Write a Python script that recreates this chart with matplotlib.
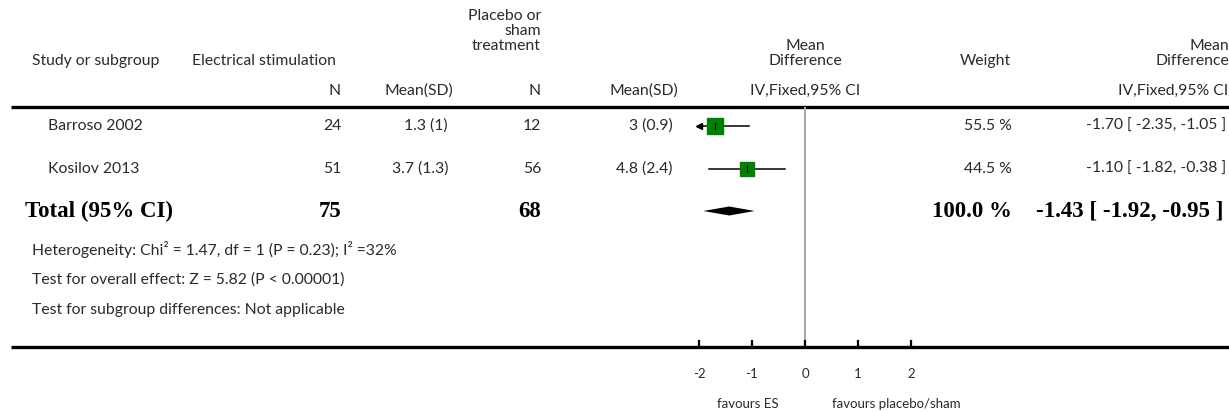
import numpy as np
import matplotlib.pyplot as plt

plt.rcParams['font.family'] = ['Lato', 'DejaVu Sans']

# %% data
studies = ['Barroso 2002', 'Kosilov 2013']
es_n = [24, 51]
es_mean = ['1.3', '3.7']
es_sd = ['1', '1.3']
ctl_n = [12, 56]
ctl_mean = ['3', '4.8']
ctl_sd = ['0.9', '2.4']
md = [-1.70, -1.10]
md_lo = [-2.35, -1.82]
md_hi = [-1.05, -0.38]
weight = [55.5, 44.5]

total_es_n = 75
total_ctl_n = 68
total_md = -1.43
total_lo = -1.92
total_hi = -0.95
total_weight = 100.0

heterogeneity = 'Heterogeneity: Chi\u00b2 = 1.47, df = 1 (P = 0.23); I\u00b2 =32%'
overall = 'Test for overall effect: Z = 5.82 (P < 0.00001)'
subgroup = 'Test for subgroup differences: Not applicable'

xticks = [-2, -1, 0, 1, 2]
xlim = (-2, 2)

# %% layout (pixels)
W, H = 1229, 412
row_y = [126, 169]
total_y = 211
txt = '#2a2a2a'
fs = 11.3

fig = plt.figure(figsize=(W / 100, H / 100), dpi=100)
bg = fig.add_axes([0, 0, 1, 1])
bg.set_xlim(0, W)
bg.set_ylim(H, 0)
bg.axis('off')

# forest panel: x -2..2 mapped on pixels 699..911
px0, px1 = 699, 911
fp = fig.add_axes([px0 / W, 0, (px1 - px0) / W, 1])
fp.set_xlim(*xlim)
fp.set_ylim(H, 0)
fp.axis('off')


def t(x, y, s, ha='left', **kw):
    kw.setdefault('fontsize', fs)
    kw.setdefault('color', txt)
    bg.text(x, y, s, ha=ha, va='center', **kw)


# ----- header -----
t(32, 61, 'Study or subgroup')
t(192, 61, 'Electrical stimulation')
t(541, 16, 'Placebo or', ha='right')
t(541, 31, 'sham', ha='right')
t(541, 46, 'treatment', ha='right')
t(805, 46, 'Mean', ha='center')
t(805, 61, 'Difference', ha='center')
t(985, 61, 'Weight', ha='center')
t(1229, 46, 'Mean', ha='right')
t(1229, 61, 'Difference', ha='right')

t(341, 91, 'N', ha='right')
t(419, 91, 'Mean(SD)', ha='center')
t(541, 91, 'N', ha='right')
t(644, 91, 'Mean(SD)', ha='center')
t(805, 91, 'IV,Fixed,95% CI', ha='center')
t(1228, 91, 'IV,Fixed,95% CI', ha='right')

bg.plot([11, W], [107, 107], color='black', lw=2.4, solid_capstyle='butt')
bg.plot([11, W], [347, 347], color='black', lw=2.4, solid_capstyle='butt')

# ----- study rows -----
for i, name in enumerate(studies):
    y = row_y[i]
    t(48, y, name)
    t(341, y, str(es_n[i]), ha='right')
    t(448, y, f'{es_mean[i]} ({es_sd[i]})', ha='right')
    t(541, y, str(ctl_n[i]), ha='right')
    t(673, y, f'{ctl_mean[i]} ({ctl_sd[i]})', ha='right')
    t(1012, y, f'{weight[i]:.1f} %', ha='right')
    t(1226, y, f'{md[i]:.2f} [ {md_lo[i]:.2f}, {md_hi[i]:.2f} ]', ha='right')

    lo = max(md_lo[i], xlim[0])
    hi = min(md_hi[i], xlim[1])
    fp.plot([lo, hi], [y, y], color='black', lw=1.1, clip_on=False)
    if md_lo[i] < xlim[0]:
        fp.plot(xlim[0], y, marker='<', color='black', ms=4, clip_on=False)
    fp.plot(md[i], y, marker='s', color='#008000', mec='#008000',
            ms=weight[i] * 0.3 * 0.72, clip_on=False)
    fp.plot([md[i], md[i]], [y - 3, y + 3], color='black', lw=0.8)

# ----- total row -----
bold = dict(family=['Liberation Serif'], fontweight='bold', fontsize=16.5, color='black')
t(25, total_y, 'Total (95% CI)', **bold)
t(341, total_y, str(total_es_n), ha='right', **bold)
t(541, total_y, str(total_ctl_n), ha='right', **bold)
t(1012, total_y, f'{total_weight:.1f} %', ha='right', **bold)
t(1224, total_y, f'{total_md:.2f} [ {total_lo:.2f}, {total_hi:.2f} ]', ha='right', **bold)
fp.fill([total_lo, total_md, total_hi, total_md],
        [total_y, total_y - 4.5, total_y, total_y + 4.5], color='black', lw=0)

t(32, 249, heterogeneity)
t(32, 280, overall)
t(32, 310, subgroup)

# ----- axis -----
fp.plot([0, 0], [108, 346], color='#aaaaaa', lw=1.5, zorder=0)
for v in xticks:
    fp.plot([v, v], [341, 347], color='black', lw=1.6, clip_on=False)
    fp.text(v, 374, f'{v}', ha='center', va='center', fontsize=9.5, color=txt)
fp.text(-0.5, 404, 'favours ES', ha='right', va='center', fontsize=9.5, color=txt)
fp.text(0.5, 404, 'favours placebo/sham', ha='left', va='center', fontsize=9.5,
        color=txt, clip_on=False)

fig.savefig('out.png', dpi=100)
